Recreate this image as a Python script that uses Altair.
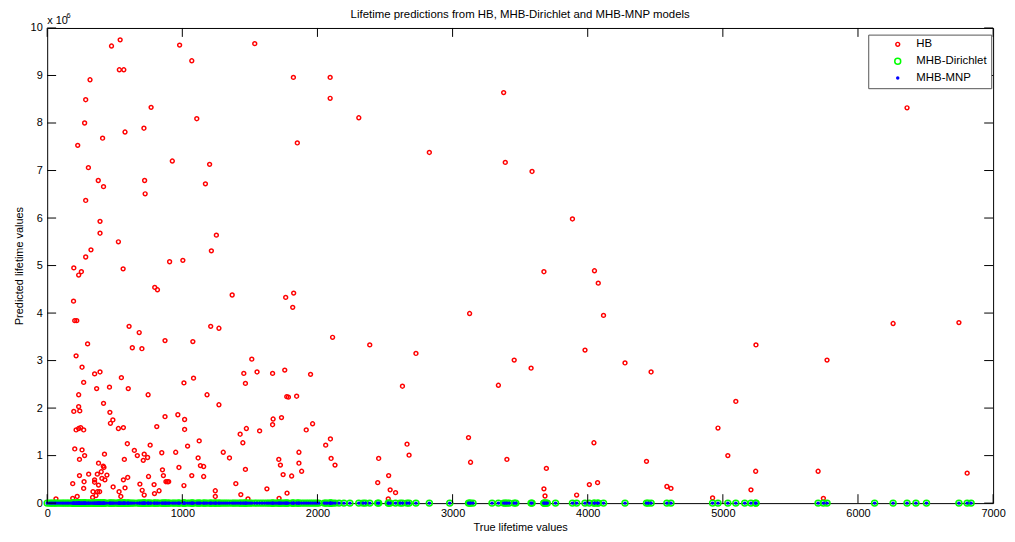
import altair as alt
import pandas as pd

FONT = "Liberation Sans"

title_text = "Lifetime predictions from HB, MHB-Dirichlet and MHB-MNP models"
x_title = "True lifetime values"
y_title = "Predicted lifetime values"
exp_base = "x 10"
exp_power = "6"

series_names = ["HB", "MHB-Dirichlet", "MHB-MNP"]
series_stroke = ["#ff0000", "#00ff00", "#0000ff"]
series_fill = ["transparent", "transparent", "#0000ff"]
series_size = [15, 36, 4]

x_ticks = [0, 1000, 2000, 3000, 4000, 5000, 6000, 7000]
y_ticks = [0, 1, 2, 3, 4, 5, 6, 7, 8, 9, 10]

# True lifetime values of the observations whose HB prediction is visible
hb_true = [
    540, 476, 980, 1536, 1070, 534, 567, 317, 285, 769, 1107, 277, 716, 576, 410, 226,
    926, 1202, 305, 378, 721, 417, 1171, 725, 285, 391, 391, 1252, 527, 324, 1215, 285,
    197, 253, 233, 906, 1004, 562, 195, 204, 219, 796, 816, 1369, 1765, 606, 681, 299,
    630, 701, 872, 1078, 1210, 1271, 214, 258, 1514, 1758, 1553, 1668, 1455, 351, 391,
    549, 270, 1012, 1083, 1467, 366, 600, 461, 233, 747, 1183, 1773, 417, 1271, 233,
    241, 197, 464, 214, 248, 270, 233, 486, 468, 527, 564, 872, 967, 1017, 1017, 811,
    1474, 1428, 1572, 1668, 1672, 1734, 593, 1039, 1125, 1448, 204, 258, 277, 239, 424,
    645, 667, 718, 743, 711, 571, 762, 848, 951, 1303, 1349, 1117, 1134, 1158, 975, 380,
    420, 853, 860, 879, 899, 890, 750, 1070, 1158, 1467, 1714, 1726, 1746, 189, 239,
    307, 415, 400, 371, 351, 442, 427, 405, 273, 270, 351, 380, 339, 373, 388, 488, 532,
    545, 576, 596, 564, 686, 703, 718, 791, 794, 828, 1012, 1244, 1244, 1396, 1433, 1486,
    1626, 1716, 1775, 65, 189, 222, 336, 361,
    1822, 2094, 2094, 2306, 1851, 2828, 3378, 3390,
    1824, 1817, 2112, 2387, 2729, 3126, 3456, 1949, 2629, 3339, 1785, 1846, 1917, 1964,
    2096, 2061, 1863, 1863, 1883, 1809, 2101, 2130, 2663, 2678, 3118, 3133, 3402, 2453,
    2446, 2527, 2538, 2578, 2524,
    3588, 3887,
    3676, 4050, 4078, 4117, 3581, 3980, 4276, 4469, 5245, 5096, 4964, 5037, 4046, 4435,
    3694, 5243, 3676, 3684, 3918, 4012, 4073, 4586, 4616, 5208, 4924,
    6363,
    5771, 6260, 6747, 5705, 6808, 5744,
]

# HB predictions (x 10^6)
hb_pred = [
    9.75, 9.62, 9.64, 9.67, 9.31, 9.12, 9.12, 8.91, 8.49, 8.33, 8.09, 8.00, 7.89, 7.81, 7.68, 7.53,
    7.20, 7.13, 7.06, 6.79, 6.79, 6.66, 6.72, 6.51, 6.37, 5.93, 5.68, 5.64, 5.50, 5.33, 5.31, 5.18,
    4.95, 4.87, 4.80, 5.08, 5.11, 4.93, 4.25, 3.84, 3.84, 4.54, 4.49, 4.38, 4.33, 3.72, 3.59, 3.35,
    3.27, 3.25, 3.42, 3.40, 3.72, 3.68, 3.10, 2.86, 3.03, 2.80, 2.76, 2.73, 2.73, 2.72, 2.76,
    2.64, 2.54, 2.53, 2.63, 2.52, 2.41, 2.41, 2.44, 2.28, 2.28, 2.28, 2.24, 2.10, 2.07, 2.03,
    1.94, 1.93, 1.91, 1.54, 1.59, 1.54, 1.57, 1.75, 1.68, 1.57, 1.59, 1.82, 1.86, 1.76, 1.55, 1.61,
    1.57, 1.45, 1.52, 1.65, 1.77, 1.80, 1.25, 1.20, 1.31, 1.27, 1.14, 1.12, 1.00, 0.92, 1.03,
    1.11, 1.00, 1.03, 0.96, 0.90, 0.92, 1.22, 1.06, 1.07, 1.07, 0.95, 0.95, 0.79, 0.77, 0.75, 0.84,
    0.75, 0.70, 0.58, 0.45, 0.45, 0.45, 0.56, 0.58, 0.56, 0.71, 0.92, 0.80, 0.60, 0.41, 0.58,
    0.61, 0.78, 0.66, 0.61, 0.49, 0.59, 0.49, 0.52, 0.45, 0.31, 0.44, 0.38, 0.24, 0.24, 0.24, 0.34, 0.24,
    0.14, 0.32, 0.54, 0.49, 0.40, 0.27, 0.17, 0.39, 0.20, 0.26, 0.37, 0.26, 0.14, 0.41, 0.18, 0.09,
    0.30, 0.10, 0.21, 0.09, 0.10, 0.14, 0.12, 0.16,
    8.96, 8.96, 8.52, 8.11, 7.58, 7.38, 8.64, 7.17,
    4.42, 4.12, 3.49, 3.33, 3.15, 3.99, 3.01, 2.71, 2.46, 2.48, 2.23, 2.25, 1.54, 1.67,
    1.35, 1.22, 1.07, 0.84, 0.67, 0.57, 0.94, 0.80, 1.24, 1.01, 1.38, 0.86, 0.92, 0.94,
    0.43, 0.58, 0.28, 0.22, 0.09,
    6.98, 5.98,
    4.87, 4.89, 4.63, 3.95, 2.84, 3.22, 2.95, 2.76, 3.33, 2.14, 1.58, 1.00, 1.27, 0.88,
    0.73, 0.67, 0.30, 0.15, 0.17, 0.39, 0.43, 0.35, 0.31, 0.28, 0.11,
    8.32,
    3.01, 3.78, 3.80, 0.67, 0.63, 0.10,
]

# Further observations whose HB prediction is hidden in the band at zero
extra_true = [
    0, 18, 30, 42, 55, 80, 95, 110, 122, 135, 148, 160, 175, 500, 512, 618, 938, 1055,
    1230, 1287, 1318, 1333, 1382, 1412, 1500, 1590, 1608, 1640, 1655, 1686, 1700, 1900,
    1933, 1980, 1995, 2010, 2050, 2074, 2160, 2196, 2240, 2338, 2355, 2612, 2979, 3151,
    3292, 3419, 3468, 3701, 3762, 4447, 5162, 6123, 6429, 6507, 6837,
]

assert len(hb_true) == len(hb_pred)

mhb_true = hb_true + extra_true
# MHB-Dirichlet and MHB-MNP predictions all read as 0 on the 10^6 scale
dir_pred = [0.0] * len(mhb_true)
mnp_pred = [0.0] * len(mhb_true)

rows = []
for t, p in zip(hb_true, hb_pred):
    rows.append({"true": t, "pred": p, "series": "HB"})
for t, p in zip(mhb_true, dir_pred):
    rows.append({"true": t, "pred": p, "series": "MHB-Dirichlet"})
for t, p in zip(mhb_true, mnp_pred):
    rows.append({"true": t, "pred": p, "series": "MHB-MNP"})
df = pd.DataFrame(rows)
df["order"] = range(len(df))

W = 953.6
H = 479
TICK = 9

xs = alt.Scale(domain=[0, 7000], nice=False, zero=False)
ys = alt.Scale(domain=[0, 10], nice=False, zero=False)

x_axis = alt.Axis(values=x_ticks, format="d", title=x_title, labelFlush=False,
                  ticks=False, domain=False, grid=False, labelPadding=4,
                  titlePadding=4, labelOverlap=False)
y_axis = alt.Axis(values=y_ticks, format="d", title=y_title, labelFlush=False,
                  ticks=False, domain=False, grid=False, labelPadding=5,
                  titlePadding=6, labelOverlap=False)

leg = alt.Legend(title=None)

points = alt.Chart(df).mark_point(shape="circle", strokeWidth=1.5, opacity=1).encode(
    x=alt.X("true:Q", scale=xs, axis=x_axis),
    y=alt.Y("pred:Q", scale=ys, axis=y_axis),
    stroke=alt.Stroke("series:N", scale=alt.Scale(domain=series_names, range=series_stroke), legend=leg),
    fill=alt.Fill("series:N", scale=alt.Scale(domain=series_names, range=series_fill), legend=leg),
    size=alt.Size("series:N", scale=alt.Scale(type="ordinal", domain=series_names, range=series_size), legend=leg),
    order=alt.Order("order:Q"),
)

xt = pd.DataFrame({"true": x_ticks})
yt = pd.DataFrame({"pred": y_ticks})

bottom_ticks = alt.Chart(xt).mark_rule(color="black", strokeWidth=1).encode(
    x=alt.X("true:Q", scale=xs, axis=x_axis), y=alt.value(H), y2=alt.value(H - TICK))
top_ticks = alt.Chart(xt).mark_rule(color="black", strokeWidth=1).encode(
    x=alt.X("true:Q", scale=xs, axis=x_axis), y=alt.value(0), y2=alt.value(TICK))
left_ticks = alt.Chart(yt).mark_rule(color="black", strokeWidth=1).encode(
    y=alt.Y("pred:Q", scale=ys, axis=y_axis), x=alt.value(0), x2=alt.value(TICK))
right_ticks = alt.Chart(yt).mark_rule(color="black", strokeWidth=1).encode(
    y=alt.Y("pred:Q", scale=ys, axis=y_axis), x=alt.value(W), x2=alt.value(W - TICK))

one = pd.DataFrame({"a": [0]})
title_mark = alt.Chart(one).mark_text(align="center", baseline="middle", fontSize=11.5,
                                      font=FONT, color="black").encode(
    x=alt.value(W / 2), y=alt.value(-13), text=alt.value(title_text))
exp1 = alt.Chart(one).mark_text(align="left", baseline="alphabetic", fontSize=11,
                                font=FONT, color="black").encode(
    x=alt.value(0), y=alt.value(-4), text=alt.value(exp_base))
exp2 = alt.Chart(one).mark_text(align="left", baseline="alphabetic", fontSize=7.5,
                                font=FONT, color="black").encode(
    x=alt.value(19.5), y=alt.value(-10), text=alt.value(exp_power))

chart = alt.layer(
    points, bottom_ticks, top_ticks, left_ticks, right_ticks, title_mark, exp1, exp2
).properties(
    width=W,
    height=H,
    autosize=alt.AutoSizeParams(type="none"),
    padding={"left": 39.5, "top": 18, "right": 14, "bottom": 30},
).configure_view(
    stroke="black", strokeWidth=1
).configure_axis(
    labelFont=FONT, titleFont=FONT, labelFontSize=11, titleFontSize=11,
    titleFontWeight="normal", labelColor="black", titleColor="black"
).configure_legend(
    orient="none", legendX=827.7, legendY=6.7, padding=4, strokeColor="#555555",
    fillColor="white", labelFont=FONT, labelFontSize=11.5, labelColor="black",
    symbolOffset=20, labelOffset=13, rowPadding=4, symbolStrokeWidth=1.5,
    cornerRadius=0
)

chart.save("out.html", embed_options={"renderer": "svg", "actions": False})
